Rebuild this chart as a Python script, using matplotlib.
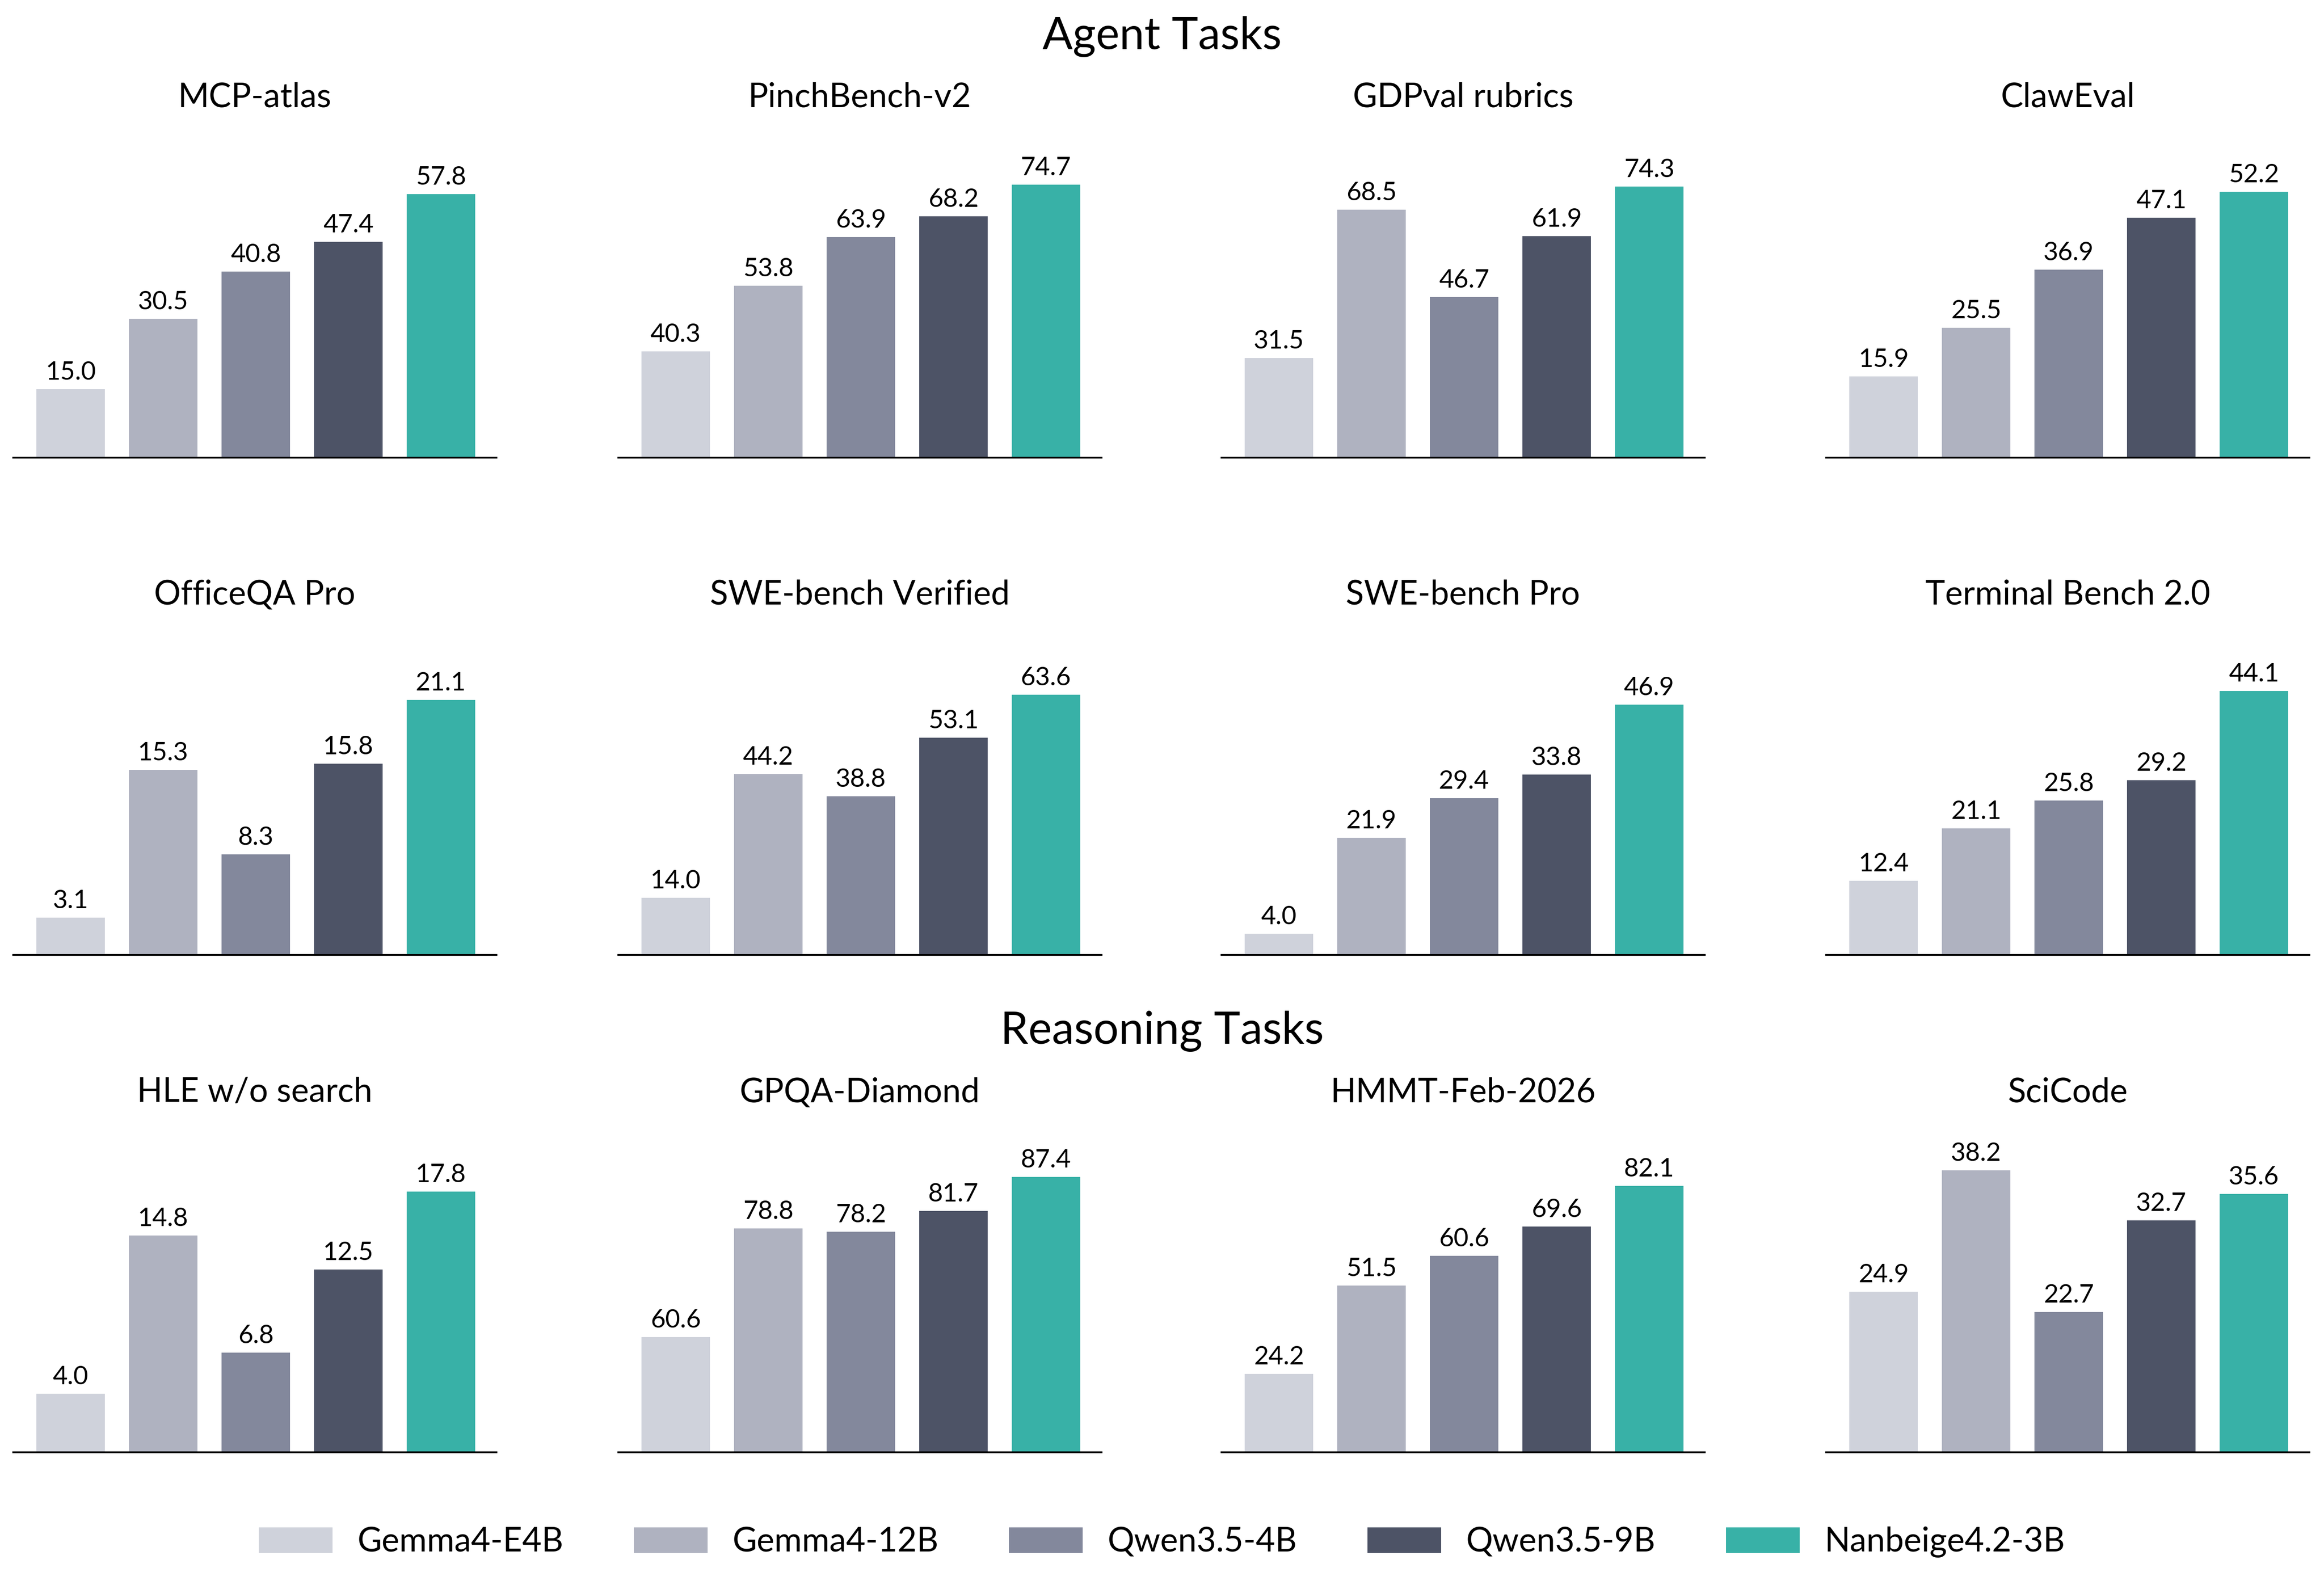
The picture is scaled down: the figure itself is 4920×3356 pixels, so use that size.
##
#  Grouped benchmark bars: Agent Tasks and Reasoning Tasks, one panel per benchmark.
#

import matplotlib
matplotlib.use("Agg")
import matplotlib.pyplot as plt
from matplotlib.patches import Patch

plt.rcParams["font.family"] = ["Lato", "DejaVu Sans"]

MODELS = ["Gemma4-E4B", "Gemma4-12B", "Qwen3.5-4B", "Qwen3.5-9B", "Nanbeige4.2-3B"]
COLORS = ["#CFD2DB", "#AFB2C0", "#83889C", "#4D5366", "#38B1A7"]

# scores, one list per benchmark, in the order of MODELS
MCP_ATLAS = [15.0, 30.5, 40.8, 47.4, 57.8]
PINCHBENCH = [40.3, 53.8, 63.9, 68.2, 74.7]
GDPVAL = [31.5, 68.5, 46.7, 61.9, 74.3]
CLAWEVAL = [15.9, 25.5, 36.9, 47.1, 52.2]
OFFICEQA = [3.1, 15.3, 8.3, 15.8, 21.1]
SWE_VERIFIED = [14.0, 44.2, 38.8, 53.1, 63.6]
SWE_PRO = [4.0, 21.9, 29.4, 33.8, 46.9]
TERMINAL = [12.4, 21.1, 25.8, 29.2, 44.1]
HLE = [4.0, 14.8, 6.8, 12.5, 17.8]
GPQA = [60.6, 78.8, 78.2, 81.7, 87.4]
HMMT = [24.2, 51.5, 60.6, 69.6, 82.1]
SCICODE = [24.9, 38.2, 22.7, 32.7, 35.6]

PANELS = [
   ("MCP-atlas", MCP_ATLAS), ("PinchBench-v2", PINCHBENCH),
   ("GDPval rubrics", GDPVAL), ("ClawEval", CLAWEVAL),
   ("OfficeQA Pro", OFFICEQA), ("SWE-bench Verified", SWE_VERIFIED),
   ("SWE-bench Pro", SWE_PRO), ("Terminal Bench 2.0", TERMINAL),
   ("HLE w/o search", HLE), ("GPQA-Diamond", GPQA),
   ("HMMT-Feb-2026", HMMT), ("SciCode", SCICODE),
]

# y ranges of each panel (some panels do not start at zero)
Y_LIMITS = [
   (0, 68.45), (18.38, 82.70), (6.6, 84.46), (0, 61.17),
   (0, 25.78), (0, 76.21), (0, 58.38), (0, 52.04),
   (0, 21.30), (41.24, 93.49), (0, 96.15), (7.35, 41.43),
]

AX_LEFT = [0.0057, 0.2660, 0.5256, 0.7858]
AX_WIDTH = 0.2079
ROW_BOTTOM = [0.7113, 0.3975, 0.0837]
AX_HEIGHT = 0.1967
TITLE_RISE = 0.2211


def drawPanel(fig, row, col, title, values, ylim):
   ax = fig.add_axes([AX_LEFT[col], ROW_BOTTOM[row], AX_WIDTH, AX_HEIGHT])
   xs = range(len(values))
   ax.bar(xs, values, width=0.74, color=COLORS)
   for x, v in zip(xs, values):
      ax.annotate("%.1f" % v, (x, v), xytext=(0, 4.8), textcoords="offset points",
                  ha="center", va="baseline", fontsize=13)
   ax.set_xlim(-0.62, 4.6)
   ax.set_ylim(*ylim)
   for side in ("top", "left", "right"):
      ax.spines[side].set_visible(False)
   ax.spines["bottom"].set_linewidth(0.9)
   ax.set_xticks([])
   ax.set_yticks([])
   fig.text(AX_LEFT[col] + AX_WIDTH / 2, ROW_BOTTOM[row] + TITLE_RISE, title,
            ha="center", va="baseline", fontsize=17)


def main():
   fig = plt.figure(figsize=(16.4, 11.1867), dpi=300)
   for i, (title, values) in enumerate(PANELS):
      drawPanel(fig, i // 4, i % 4, title, values, Y_LIMITS[i])

   fig.text(0.5, 0.969, "Agent Tasks", ha="center", va="baseline", fontsize=22.7)
   fig.text(0.5, 0.3415, "Reasoning Tasks", ha="center", va="baseline", fontsize=22.7)

   handles = [Patch(facecolor=c, edgecolor="none", label=m) for m, c in zip(MODELS, COLORS)]
   fig.legend(handles=handles, loc="center", bbox_to_anchor=(0.5, 0.027), ncol=5,
              frameon=False, fontsize=17, handlelength=2.2, handleheight=0.8,
              handletextpad=0.75, columnspacing=2.1)

   fig.savefig("out.png", dpi=300, facecolor="white")


main()
